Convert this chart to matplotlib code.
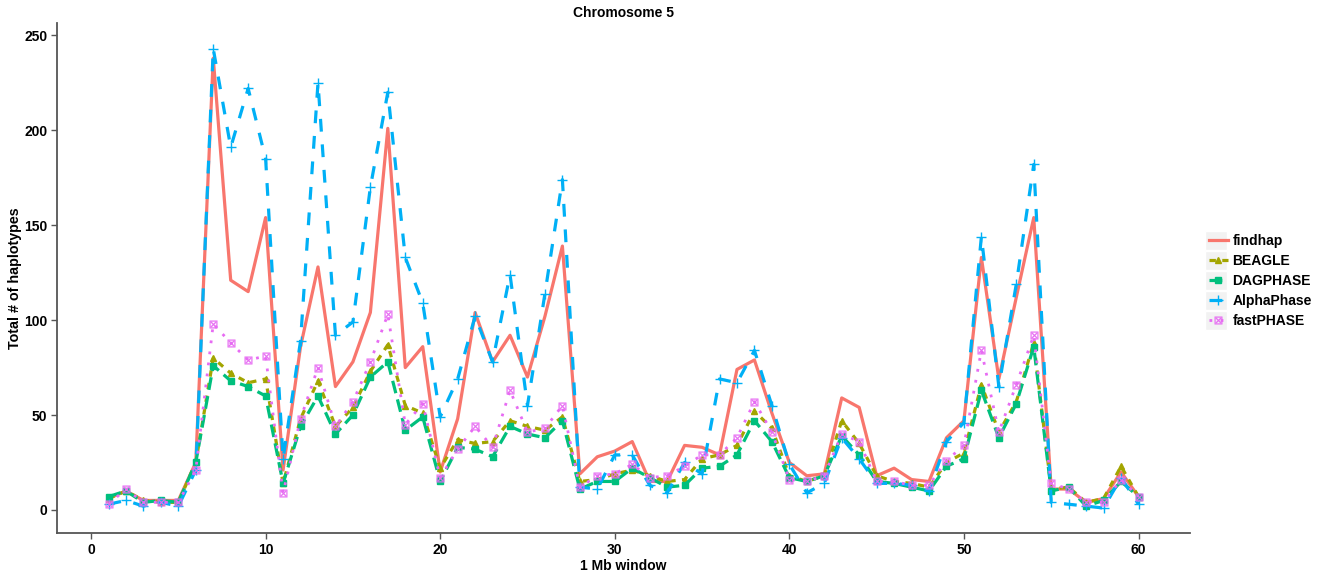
import matplotlib
matplotlib.use("Agg")
import matplotlib.pyplot as plt
from matplotlib.patches import Rectangle

plt.rcParams['font.family'] = ['Liberation Sans', 'DejaVu Sans']

windows = list(range(1, 61))
series_names = ["findhap", "BEAGLE", "DAGPHASE", "AlphaPhase", "fastPHASE"]

findhap = [6, 10, 5, 5, 5, 25, 238, 121, 115, 154,
           21, 86, 128, 65, 78, 104, 201, 75, 86, 20,
           48, 104, 78, 92, 70, 102, 139, 19, 28, 31,
           36, 15, 15, 34, 33, 29, 74, 79, 51, 25,
           18, 19, 59, 54, 18, 22, 16, 15, 38, 47,
           133, 69, 112, 154, 11, 11, 4, 6, 20, 7]
beagle = [6, 10, 5, 4, 4, 25, 80, 72, 67, 69,
          14, 48, 68, 44, 54, 73, 87, 55, 51, 22,
          37, 35, 36, 47, 44, 42, 49, 15, 16, 19,
          21, 18, 15, 16, 27, 29, 34, 52, 43, 18,
          15, 18, 47, 35, 18, 15, 14, 12, 25, 30,
          66, 41, 57, 88, 11, 12, 4, 6, 23, 7]
dagphase = [7, 10, 4, 5, 4, 25, 76, 68, 65, 60,
            14, 44, 60, 40, 50, 70, 78, 42, 49, 15,
            33, 32, 28, 44, 40, 38, 47, 11, 15, 15,
            22, 17, 12, 13, 22, 23, 29, 47, 36, 17,
            15, 18, 39, 29, 15, 14, 12, 10, 23, 27,
            63, 38, 56, 86, 10, 12, 2, 5, 15, 7]
alphaphase = [3, 5, 2, 4, 2, 21, 243, 191, 222, 185,
              27, 89, 225, 92, 99, 170, 220, 133, 109, 49,
              69, 102, 78, 124, 55, 114, 174, 12, 11, 29,
              29, 13, 9, 25, 19, 69, 67, 84, 55, 24,
              9, 14, 38, 27, 14, 14, 13, 10, 36, 46,
              144, 65, 119, 182, 4, 3, 2, 1, 17, 3]
fastphase = [3, 11, 4, 4, 4, 21, 98, 88, 79, 81,
             9, 48, 75, 44, 57, 78, 103, 45, 56, 17,
             32, 44, 33, 63, 41, 43, 55, 12, 18, 19,
             24, 17, 18, 23, 29, 29, 38, 57, 41, 16,
             15, 18, 40, 36, 15, 15, 13, 13, 26, 34,
             84, 41, 66, 92, 14, 11, 4, 4, 16, 7]

x_ticks = [0, 10, 20, 30, 40, 50, 60]
y_ticks = [0, 50, 100, 150, 200, 250]

colors = ["#F8766D", "#A3A500", "#00BF7D", "#00B0F6", "#E76BF3"]
styles = [
    dict(linestyle="-", marker=None),
    dict(linestyle=(0, (2, 2)), marker="^", markersize=4.5),
    dict(linestyle=(0, (4, 2)), marker="s", markersize=4),
    dict(linestyle=(0, (4, 4)), marker="+", markersize=6.5, markeredgewidth=1.0),
    dict(linestyle=(0, (1, 3)), marker="$\\boxtimes$", markersize=5.5, markeredgewidth=0.2),
]
data = [findhap, beagle, dagphase, alphaphase, fastphase]

W, H = 1323, 575
fig = plt.figure(figsize=(W / 100, H / 100), dpi=100)
ax = fig.add_axes([57 / W, 1 - 533 / H, (1190 - 57) / W, (533 - 23) / H])

handles = []
for name, vals, col, st in zip(series_names, data, colors, styles):
    lw = 2.3 if name != "fastPHASE" else 2.0
    ln, = ax.plot(windows, vals, color=col, linewidth=lw, label=name, **st)
    handles.append(ln)

ax.set_xlim(-1.95, 62.95)
ax.set_ylim(-12.15, 256.5)
ax.set_xticks(x_ticks)
ax.set_yticks(y_ticks)
for s in ["top", "right"]:
    ax.spines[s].set_visible(False)
for s in ["left", "bottom"]:
    ax.spines[s].set_color("#555555")
    ax.spines[s].set_linewidth(1.3)
ax.tick_params(axis="both", length=4, width=1, color="#555555",
               labelsize=10, labelcolor="black", pad=3)
for lab in ax.get_xticklabels() + ax.get_yticklabels():
    lab.set_fontweight("bold")

ax.set_xlabel("1 Mb window", fontsize=10, fontweight="bold", labelpad=2)
ax.set_ylabel("Total # of haplotypes", fontsize=10.3, fontweight="bold", labelpad=1.5)
ax.set_title("Chromosome 5", fontsize=10, fontweight="bold", pad=4)

# legend key backgrounds
for i in range(5):
    yc = 240.5 + 20 * i
    fig.patches.append(Rectangle((1205 / W, 1 - (yc + 9.5) / H), 22 / W, 19 / H,
                                 transform=fig.transFigure, facecolor="#F2F2F2",
                                 edgecolor="white", linewidth=1, zorder=0))

leg = fig.legend(handles=handles, loc="center left",
                 bbox_to_anchor=(1202 / W, 1 - 281 / H),
                 frameon=False, fontsize=10, handlelength=1.35,
                 handletextpad=0.35, labelspacing=0.42, borderpad=0)
for t in leg.get_texts():
    t.set_fontweight("bold")

fig.savefig("out.png", dpi=100)
